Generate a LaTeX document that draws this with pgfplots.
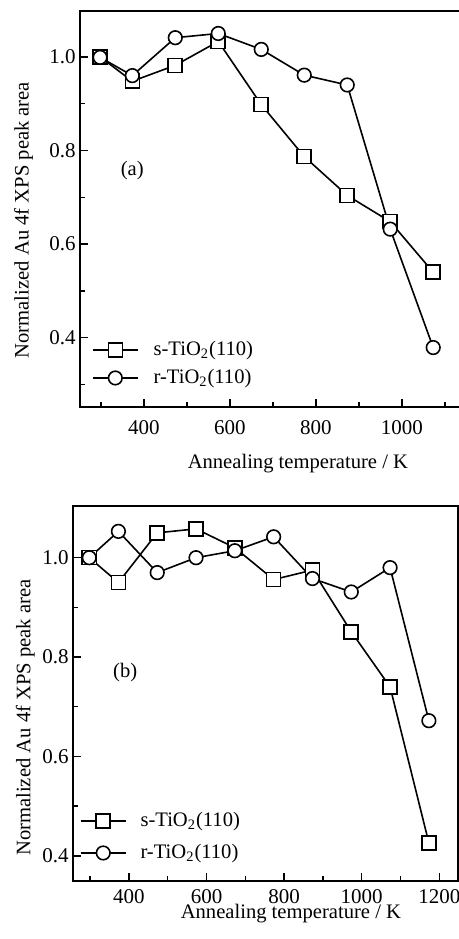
\documentclass[border=0pt]{standalone}
\usepackage{fontspec}
\setmainfont{Liberation Serif}
\usepackage{pgfplots}
\pgfplotsset{compat=1.18}

\pgfplotsset{
  xps/.style={
    scale only axis,
    axis line style={line width=0.9pt},
    tick align=inside,
    xtick pos=bottom, ytick pos=left,
    major tick length=4pt, minor tick length=2.5pt,
    every tick/.append style={black,line width=0.7pt},
    /pgf/number format/assume math mode=true,
    tick label style={font=\fontsize{10.5}{12.6}\selectfont},
    yticklabel style={/pgf/number format/fixed,/pgf/number format/fixed zerofill,
      /pgf/number format/precision=1,inner sep=0pt},
    xticklabel style={inner sep=0pt,/pgf/number format/1000 sep={}},
    label style={font=\fontsize{10.3}{12.4}\selectfont,inner sep=0pt},
    legend style={draw=none,fill=none,anchor=west,inner sep=0pt,outer sep=0pt,
      font=\fontsize{10.3}{12.4}\selectfont,
      nodes={inner sep=0pt}},
    legend cell align=left,
    legend image code/.code={\draw[mark repeat=2,mark phase=2]
      plot coordinates {(0pt,0pt)(11.25pt,0pt)(22.5pt,0pt)};},
    every axis plot/.append style={black,line width=0.8pt},
  },
  sq/.style={mark=square*,mark options={fill=white,mark size=3.5pt,solid}},
  ci/.style={mark=*,mark options={fill=white,mark size=3.4pt,solid}},
}

\begin{document}
\begin{tikzpicture}
\path[use as bounding box,fill=white] (0,0) rectangle (229.5pt,-469.5pt);

% (a)
\begin{axis}[xps,
  at={(40.15pt,-203.5pt)}, anchor=south west,
  width=190.85pt, height=198pt,
  xmin=252, xmax=1140, ymin=0.252, ymax=1.098,
  xtick={400,600,800,1000}, minor xtick={300,500,700,900,1100},
  ytick={0.4,0.6,0.8,1.0}, minor ytick={0.3,0.5,0.7,0.9},
  xticklabel style={yshift=-6.5pt},
  yticklabel style={xshift=-2.15pt},
  xlabel={Annealing temperature / K},
  xlabel style={at={(axis description cs:0.570,0)},anchor=base,yshift=-30.65pt},
  ylabel={Normalized Au 4f XPS peak area},
  ylabel style={at={(axis description cs:-0.1357,0.472)},anchor=base},
  legend style={at={(axis description cs:0.0307,0.1086)},row sep=5.3pt,
    /tikz/every odd column/.append style={column sep=7.5pt}},
  ]
  \addplot[sq] coordinates {(298,1.000)(373,0.948)(473,0.982)(573,1.033)(673,0.898)(773,0.787)(873,0.704)(973,0.648)(1073,0.540)};
  \addlegendentry{s-TiO\textsubscript{2}(110)}
  \addplot[ci] coordinates {(298,0.999)(373,0.960)(473,1.041)(573,1.050)(673,1.016)(773,0.961)(873,0.940)(973,0.632)(1073,0.379)};
  \addlegendentry{r-TiO\textsubscript{2}(110)}
  \node[font=\fontsize{10.3}{12.4}\selectfont] at (axis cs:372.7,0.758) {(a)};
\end{axis}

% (b)
\begin{axis}[xps,
  at={(36.5pt,-440.35pt)}, anchor=south west,
  width=192.5pt, height=187.35pt,
  xmin=256, xmax=1248, ymin=0.350, ymax=1.104,
  xtick={400,600,800,1000,1200}, minor xtick={300,500,700,900,1100},
  ytick={0.4,0.6,0.8,1.0}, minor ytick={0.5,0.7,0.9},
  xticklabel style={yshift=-4.3pt},
  yticklabel style={xshift=-2pt},
  xlabel={Annealing temperature / K},
  xlabel style={at={(axis description cs:0.566,0)},anchor=base,yshift=-19pt},
  ylabel={Normalized Au 4f XPS peak area},
  ylabel style={at={(axis description cs:-0.1104,0.4355)},anchor=base},
  legend style={at={(axis description cs:0.018,0.1166)},row sep=7.3pt,
    /tikz/every odd column/.append style={column sep=7pt}},
  ]
  \addplot[sq] coordinates {(298,1.000)(373,0.950)(473,1.050)(573,1.058)(673,1.020)(773,0.956)(873,0.975)(973,0.851)(1073,0.740)(1173,0.426)};
  \addlegendentry{s-TiO\textsubscript{2}(110)}
  \addplot[ci] coordinates {(298,1.000)(373,1.053)(473,0.970)(573,1.000)(673,1.014)(773,1.042)(873,0.958)(973,0.931)(1073,0.980)(1173,0.672)};
  \addlegendentry{r-TiO\textsubscript{2}(110)}
  \node[font=\fontsize{10.3}{12.4}\selectfont] at (axis cs:390.5,0.769) {(b)};
\end{axis}
\end{tikzpicture}
\end{document}
